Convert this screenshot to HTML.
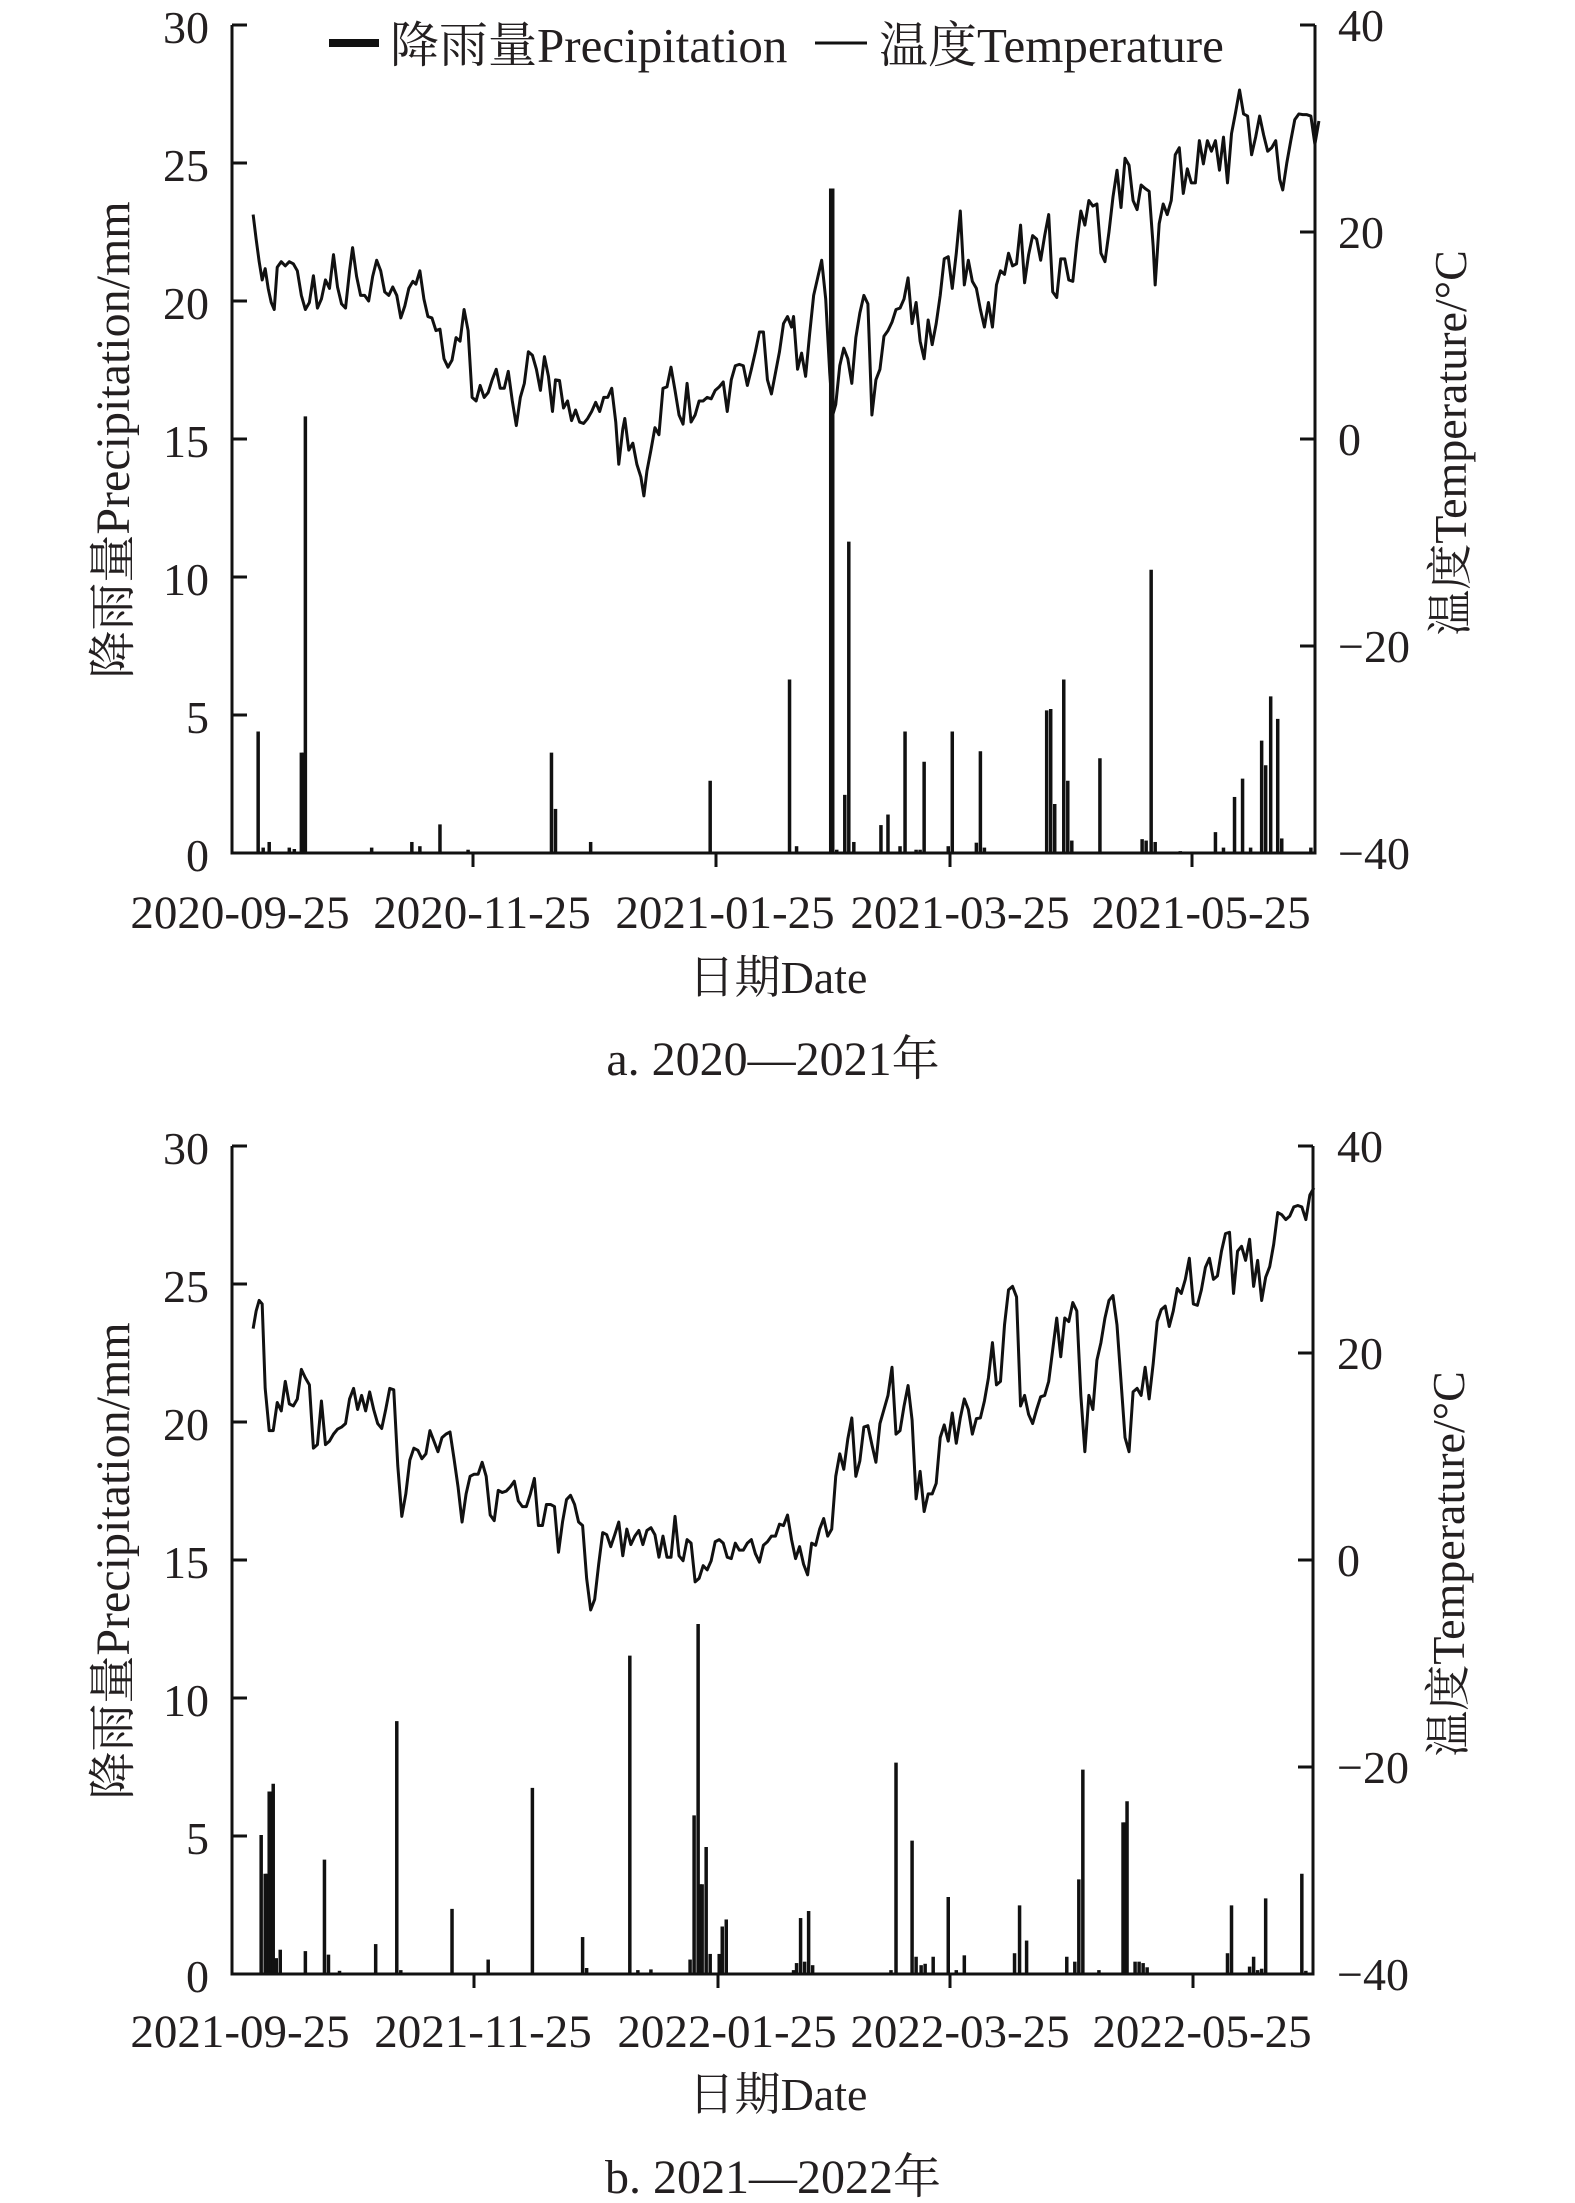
<!DOCTYPE html>
<html>
<head>
<meta charset="utf-8">
<style>
  html,body{margin:0;padding:0;background:#fff;}
  svg{display:block;}
  text{font-family:"Liberation Serif","Noto Serif CJK SC","Noto Sans CJK SC",serif;fill:#231f20;}
</style>
</head>
<body>
<svg width="1575" height="2203" viewBox="0 0 1575 2203" xmlns="http://www.w3.org/2000/svg">
<rect x="0" y="0" width="1575" height="2203" fill="#fff"/>

<!-- ===================== CHART A ===================== -->
<g id="chartA">
  <g transform="scale(1.0045,0.7034)" stroke="#111" fill="none">
    <polyline vector-effect="non-scaling-stroke" stroke-width="3" stroke-linejoin="round" points="252,305 255,340 258,372 261,398 264,382 267,410 270,430 273,440 276,380 280,372 284,378 288,372 292,375 296,385 300,420 304,440 308,430 312,392 316,438 320,425 324,398 328,410 332,362 336,408 340,432 344,438 348,385 351,352 355,393 359,420 363,420 367,428 371,393 375,370 379,385 383,415 387,420 391,408 395,420 399,452 403,435 407,410 411,400 414,404 418,385 422,425 426,450 430,452 434,470 438,468 442,510 446,522 450,512 454,480 458,485 462,440 466,470 470,565 474,570 478,548 482,565 486,558 490,540 494,525 498,552 502,552 506,528 510,570 514,605 518,565 522,545 526,500 530,505 534,525 538,555 542,507 546,535 550,585 553,540 557,541 561,580 565,570 569,598 573,583 577,600 581,602 585,595 589,585 593,572 597,585 601,565 605,565 609,552 613,600 616,660 620,610 622,595 626,640 630,630 634,660 638,678 641,705 644,670 648,640 652,608 656,618 660,552 664,550 668,522 672,555 676,590 680,603 684,545 688,600 692,590 696,570 700,570 704,565 708,567 712,555 716,550 720,543 724,585 728,540 732,520 736,518 740,520 744,548 748,525 752,500 756,472 760,472 764,540 768,560 772,530 776,500 780,460 784,450 788,465 790,450 794,525 798,502 802,535 806,475 810,420 814,395 818,370 822,425 826,530 829,590 832,575 836,520 840,495 844,510 848,545 852,480 856,445 860,420 864,432 868,590 872,540 876,525 880,478 884,470 888,458 892,440 896,438 900,425 904,395 908,460 912,430 916,485 920,510 924,455 928,490 932,460 936,420 940,368 944,365 948,410 952,360 956,300 960,405 964,370 968,400 972,410 976,440 980,465 984,430 988,465 992,405 996,385 1000,390 1004,360 1008,378 1012,375 1016,320 1020,402 1024,362 1028,335 1032,340 1036,370 1040,335 1044,305 1048,415 1052,423 1056,368 1060,368 1064,398 1068,400 1072,345 1076,300 1080,320 1084,285 1088,293 1092,290 1096,360 1100,372 1104,330 1108,280 1112,242 1116,295 1120,225 1124,235 1128,285 1132,298 1136,263 1140,268 1144,272 1148,350 1150,405 1154,318 1158,290 1162,305 1166,285 1170,220 1174,210 1178,275 1182,240 1186,260 1190,260 1194,200 1198,233 1202,200 1206,215 1210,200 1214,242 1218,195 1222,260 1226,190 1230,160 1234,128 1238,162 1242,165 1246,220 1250,195 1254,165 1258,192 1262,215 1266,210 1270,200 1274,255 1277,270 1281,232 1285,200 1289,170 1293,162 1297,163 1301,163 1305,165 1309,205 1313,172"/>
    <g stroke-width="3.5">
      <line vector-effect="non-scaling-stroke" x1="257" y1="1213" x2="257" y2="1040"/>
      <line vector-effect="non-scaling-stroke" x1="262" y1="1213" x2="262" y2="1205"/>
      <line vector-effect="non-scaling-stroke" x1="268" y1="1213" x2="268" y2="1197"/>
      <line vector-effect="non-scaling-stroke" x1="288" y1="1213" x2="288" y2="1205"/>
      <line vector-effect="non-scaling-stroke" x1="293" y1="1213" x2="293" y2="1207"/>
      <line vector-effect="non-scaling-stroke" x1="300" y1="1213" x2="300" y2="1070"/>
      <line vector-effect="non-scaling-stroke" x1="302" y1="1213" x2="302" y2="1070"/>
      <line vector-effect="non-scaling-stroke" x1="304" y1="1213" x2="304" y2="592"/>
      <line vector-effect="non-scaling-stroke" x1="370" y1="1213" x2="370" y2="1205"/>
      <line vector-effect="non-scaling-stroke" x1="410" y1="1213" x2="410" y2="1197"/>
      <line vector-effect="non-scaling-stroke" x1="418" y1="1213" x2="418" y2="1203"/>
      <line vector-effect="non-scaling-stroke" x1="438" y1="1213" x2="438" y2="1172"/>
      <line vector-effect="non-scaling-stroke" x1="466" y1="1213" x2="466" y2="1208"/>
      <line vector-effect="non-scaling-stroke" x1="549" y1="1213" x2="549" y2="1070"/>
      <line vector-effect="non-scaling-stroke" x1="553" y1="1213" x2="553" y2="1150"/>
      <line vector-effect="non-scaling-stroke" x1="588" y1="1213" x2="588" y2="1197"/>
      <line vector-effect="non-scaling-stroke" x1="707" y1="1213" x2="707" y2="1110"/>
      <line vector-effect="non-scaling-stroke" x1="786" y1="1213" x2="786" y2="966"/>
      <line vector-effect="non-scaling-stroke" x1="793" y1="1213" x2="793" y2="1203"/>
      <line vector-effect="non-scaling-stroke" x1="827" y1="1213" x2="827" y2="268"/>
      <line vector-effect="non-scaling-stroke" x1="829" y1="1213" x2="829" y2="268"/>
      <line vector-effect="non-scaling-stroke" x1="833" y1="1213" x2="833" y2="1208"/>
      <line vector-effect="non-scaling-stroke" x1="841" y1="1213" x2="841" y2="1130"/>
      <line vector-effect="non-scaling-stroke" x1="845" y1="1213" x2="845" y2="770"/>
      <line vector-effect="non-scaling-stroke" x1="850" y1="1213" x2="850" y2="1197"/>
      <line vector-effect="non-scaling-stroke" x1="877" y1="1213" x2="877" y2="1173"/>
      <line vector-effect="non-scaling-stroke" x1="884" y1="1213" x2="884" y2="1158"/>
      <line vector-effect="non-scaling-stroke" x1="896" y1="1213" x2="896" y2="1203"/>
      <line vector-effect="non-scaling-stroke" x1="901" y1="1213" x2="901" y2="1040"/>
      <line vector-effect="non-scaling-stroke" x1="912" y1="1213" x2="912" y2="1208"/>
      <line vector-effect="non-scaling-stroke" x1="916" y1="1213" x2="916" y2="1208"/>
      <line vector-effect="non-scaling-stroke" x1="920" y1="1213" x2="920" y2="1083"/>
      <line vector-effect="non-scaling-stroke" x1="944" y1="1213" x2="944" y2="1203"/>
      <line vector-effect="non-scaling-stroke" x1="948" y1="1213" x2="948" y2="1040"/>
      <line vector-effect="non-scaling-stroke" x1="972" y1="1213" x2="972" y2="1198"/>
      <line vector-effect="non-scaling-stroke" x1="976" y1="1213" x2="976" y2="1068"/>
      <line vector-effect="non-scaling-stroke" x1="980" y1="1213" x2="980" y2="1205"/>
      <line vector-effect="non-scaling-stroke" x1="1042" y1="1213" x2="1042" y2="1010"/>
      <line vector-effect="non-scaling-stroke" x1="1046" y1="1213" x2="1046" y2="1008"/>
      <line vector-effect="non-scaling-stroke" x1="1050" y1="1213" x2="1050" y2="1143"/>
      <line vector-effect="non-scaling-stroke" x1="1059" y1="1213" x2="1059" y2="966"/>
      <line vector-effect="non-scaling-stroke" x1="1063" y1="1213" x2="1063" y2="1110"/>
      <line vector-effect="non-scaling-stroke" x1="1067" y1="1213" x2="1067" y2="1195"/>
      <line vector-effect="non-scaling-stroke" x1="1095" y1="1213" x2="1095" y2="1078"/>
      <line vector-effect="non-scaling-stroke" x1="1137" y1="1213" x2="1137" y2="1193"/>
      <line vector-effect="non-scaling-stroke" x1="1141" y1="1213" x2="1141" y2="1195"/>
      <line vector-effect="non-scaling-stroke" x1="1146" y1="1213" x2="1146" y2="810"/>
      <line vector-effect="non-scaling-stroke" x1="1150" y1="1213" x2="1150" y2="1197"/>
      <line vector-effect="non-scaling-stroke" x1="1175" y1="1213" x2="1175" y2="1210"/>
      <line vector-effect="non-scaling-stroke" x1="1210" y1="1213" x2="1210" y2="1183"/>
      <line vector-effect="non-scaling-stroke" x1="1218" y1="1213" x2="1218" y2="1205"/>
      <line vector-effect="non-scaling-stroke" x1="1229" y1="1213" x2="1229" y2="1133"/>
      <line vector-effect="non-scaling-stroke" x1="1237" y1="1213" x2="1237" y2="1107"/>
      <line vector-effect="non-scaling-stroke" x1="1245" y1="1213" x2="1245" y2="1205"/>
      <line vector-effect="non-scaling-stroke" x1="1256" y1="1213" x2="1256" y2="1053"/>
      <line vector-effect="non-scaling-stroke" x1="1260" y1="1213" x2="1260" y2="1088"/>
      <line vector-effect="non-scaling-stroke" x1="1265" y1="1213" x2="1265" y2="990"/>
      <line vector-effect="non-scaling-stroke" x1="1272" y1="1213" x2="1272" y2="1022"/>
      <line vector-effect="non-scaling-stroke" x1="1276" y1="1213" x2="1276" y2="1192"/>
      <line vector-effect="non-scaling-stroke" x1="1305" y1="1213" x2="1305" y2="1205"/>
    </g>
  </g>

  <g stroke="#111" stroke-width="3" fill="none">
    <line x1="232" y1="25" x2="232" y2="854.5"/>
    <line x1="230.5" y1="853" x2="1316.5" y2="853"/>
    <line x1="1315" y1="25" x2="1315" y2="854.5"/>
    <line x1="232" y1="25" x2="247" y2="25"/>
    <line x1="232" y1="163" x2="247" y2="163"/>
    <line x1="232" y1="301" x2="247" y2="301"/>
    <line x1="232" y1="439" x2="247" y2="439"/>
    <line x1="232" y1="577" x2="247" y2="577"/>
    <line x1="232" y1="715" x2="247" y2="715"/>
    <line x1="1300" y1="25" x2="1315" y2="25"/>
    <line x1="1300" y1="232" x2="1315" y2="232"/>
    <line x1="1300" y1="439" x2="1315" y2="439"/>
    <line x1="1300" y1="646" x2="1315" y2="646"/>
    <line x1="473" y1="853" x2="473" y2="867"/>
    <line x1="716" y1="853" x2="716" y2="867"/>
    <line x1="950" y1="853" x2="950" y2="867"/>
    <line x1="1192" y1="853" x2="1192" y2="867"/>
  </g>

  <line x1="329" y1="43" x2="379" y2="43" stroke="#111" stroke-width="8"/>
  <text x="390" y="62" font-size="49">降雨量Precipitation</text>
  <line x1="815" y1="43" x2="867" y2="43" stroke="#111" stroke-width="3"/>
  <text x="879" y="62" font-size="49">温度Temperature</text>

  <g font-size="46" text-anchor="end">
    <text x="209" y="43">30</text>
    <text x="209" y="181">25</text>
    <text x="209" y="319">20</text>
    <text x="209" y="457">15</text>
    <text x="209" y="595">10</text>
    <text x="209" y="733">5</text>
    <text x="209" y="871">0</text>
  </g>
  <g font-size="46" text-anchor="start">
    <text x="1338" y="41">40</text>
    <text x="1338" y="248">20</text>
    <text x="1338" y="455">0</text>
    <text x="1338" y="662">−20</text>
    <text x="1338" y="869">−40</text>
  </g>
  <g font-size="47" text-anchor="middle">
    <text x="240" y="928">2020-09-25</text>
    <text x="482" y="928">2020-11-25</text>
    <text x="725" y="928">2021-01-25</text>
    <text x="960" y="928">2021-03-25</text>
    <text x="1201" y="928">2021-05-25</text>
  </g>
  <text x="778" y="993" font-size="46" text-anchor="middle">日期Date</text>
  <text x="773" y="1075" font-size="48" text-anchor="middle">a. 2020—2021年</text>
  <text transform="translate(129,440) rotate(-90)" font-size="48" text-anchor="middle">降雨量Precipitation/mm</text>
  <text transform="translate(1466,443) rotate(-90)" font-size="46" text-anchor="middle">温度Temperature/°C</text>
</g>

<!-- ===================== CHART B ===================== -->
<g id="chartBdata" transform="translate(0,1100) scale(1.0045,0.7034)" stroke="#111" fill="none">
  <polyline vector-effect="non-scaling-stroke" stroke-width="3" stroke-linejoin="round" points="252,325 255,300 258,285 261,290 264,410 268,470 272,470 276,430 280,442 284,400 288,432 292,435 296,425 300,383 304,395 308,405 312,495 316,490 320,428 324,490 328,485 332,475 336,468 340,465 344,460 348,425 352,410 356,440 360,420 364,442 368,415 372,440 376,460 380,467 384,440 388,410 392,412 396,520 400,592 404,560 408,512 412,495 416,498 420,510 424,503 428,470 432,485 436,500 440,480 444,475 448,472 452,510 456,550 460,600 464,560 468,535 472,532 476,532 480,515 484,535 488,590 492,598 496,555 500,558 504,556 508,550 512,542 516,570 520,578 524,578 528,560 532,538 536,605 540,605 544,575 548,575 552,578 556,643 560,600 564,568 568,562 572,575 576,600 580,605 584,680 588,725 592,710 596,660 600,615 604,618 608,635 612,618 616,600 620,648 624,610 628,632 632,620 636,612 640,632 644,612 648,608 652,618 656,650 660,620 664,650 668,650 672,592 676,648 680,655 684,625 688,630 692,685 696,680 700,662 704,668 708,655 712,628 716,625 720,630 724,650 728,652 732,630 736,640 740,640 744,630 748,625 752,645 756,657 760,633 764,628 768,620 772,620 776,603 780,605 784,590 788,625 792,652 796,635 800,660 804,675 808,630 812,633 816,610 820,595 824,620 828,610 832,535 836,503 840,525 844,482 848,452 852,535 856,513 860,465 864,463 868,490 872,515 876,460 880,440 884,420 888,380 892,475 896,470 900,435 904,406 908,455 912,567 916,528 920,585 924,560 928,560 932,545 936,480 940,462 944,485 948,445 952,488 956,452 960,425 964,440 968,475 972,453 976,452 980,428 984,395 988,345 992,405 996,400 1000,320 1004,270 1008,265 1012,280 1016,435 1020,420 1024,447 1028,460 1032,440 1036,422 1040,420 1044,400 1048,355 1052,310 1056,365 1060,310 1064,315 1068,288 1072,300 1076,420 1080,500 1084,420 1088,440 1092,370 1096,345 1100,310 1104,285 1108,278 1112,320 1116,400 1120,480 1124,500 1128,415 1132,410 1136,420 1140,380 1144,425 1148,375 1152,315 1156,298 1160,293 1164,322 1168,300 1172,268 1176,275 1180,255 1184,225 1188,290 1192,292 1196,270 1200,238 1204,225 1208,255 1212,250 1216,215 1220,190 1224,188 1228,275 1232,215 1236,208 1240,228 1244,198 1248,265 1252,228 1256,285 1260,252 1264,237 1268,205 1272,160 1276,163 1280,170 1284,165 1288,152 1292,150 1296,152 1300,170 1304,135 1308,125"/>
  <g stroke-width="3.5">
    <line vector-effect="non-scaling-stroke" x1="260" y1="1242" x2="260" y2="1045"/>
    <line vector-effect="non-scaling-stroke" x1="264" y1="1242" x2="264" y2="1100"/>
    <line vector-effect="non-scaling-stroke" x1="266" y1="1242" x2="266" y2="1100"/>
    <line vector-effect="non-scaling-stroke" x1="268" y1="1242" x2="268" y2="983"/>
    <line vector-effect="non-scaling-stroke" x1="270" y1="1242" x2="270" y2="983"/>
    <line vector-effect="non-scaling-stroke" x1="272" y1="1242" x2="272" y2="972"/>
    <line vector-effect="non-scaling-stroke" x1="275" y1="1242" x2="275" y2="1220"/>
    <line vector-effect="non-scaling-stroke" x1="279" y1="1242" x2="279" y2="1208"/>
    <line vector-effect="non-scaling-stroke" x1="304" y1="1242" x2="304" y2="1210"/>
    <line vector-effect="non-scaling-stroke" x1="323" y1="1242" x2="323" y2="1080"/>
    <line vector-effect="non-scaling-stroke" x1="327" y1="1242" x2="327" y2="1215"/>
    <line vector-effect="non-scaling-stroke" x1="338" y1="1242" x2="338" y2="1238"/>
    <line vector-effect="non-scaling-stroke" x1="374" y1="1242" x2="374" y2="1200"/>
    <line vector-effect="non-scaling-stroke" x1="395" y1="1242" x2="395" y2="883"/>
    <line vector-effect="non-scaling-stroke" x1="399" y1="1242" x2="399" y2="1237"/>
    <line vector-effect="non-scaling-stroke" x1="450" y1="1242" x2="450" y2="1150"/>
    <line vector-effect="non-scaling-stroke" x1="486" y1="1242" x2="486" y2="1222"/>
    <line vector-effect="non-scaling-stroke" x1="530" y1="1242" x2="530" y2="978"/>
    <line vector-effect="non-scaling-stroke" x1="580" y1="1242" x2="580" y2="1190"/>
    <line vector-effect="non-scaling-stroke" x1="584" y1="1242" x2="584" y2="1234"/>
    <line vector-effect="non-scaling-stroke" x1="627" y1="1242" x2="627" y2="790"/>
    <line vector-effect="non-scaling-stroke" x1="635" y1="1242" x2="635" y2="1237"/>
    <line vector-effect="non-scaling-stroke" x1="648" y1="1242" x2="648" y2="1236"/>
    <line vector-effect="non-scaling-stroke" x1="687" y1="1242" x2="687" y2="1222"/>
    <line vector-effect="non-scaling-stroke" x1="691" y1="1242" x2="691" y2="1017"/>
    <line vector-effect="non-scaling-stroke" x1="695" y1="1242" x2="695" y2="745"/>
    <line vector-effect="non-scaling-stroke" x1="697" y1="1242" x2="697" y2="1115"/>
    <line vector-effect="non-scaling-stroke" x1="699" y1="1242" x2="699" y2="1115"/>
    <line vector-effect="non-scaling-stroke" x1="703" y1="1242" x2="703" y2="1062"/>
    <line vector-effect="non-scaling-stroke" x1="707" y1="1242" x2="707" y2="1214"/>
    <line vector-effect="non-scaling-stroke" x1="716" y1="1242" x2="716" y2="1214"/>
    <line vector-effect="non-scaling-stroke" x1="719" y1="1242" x2="719" y2="1175"/>
    <line vector-effect="non-scaling-stroke" x1="723" y1="1242" x2="723" y2="1165"/>
    <line vector-effect="non-scaling-stroke" x1="790" y1="1242" x2="790" y2="1237"/>
    <line vector-effect="non-scaling-stroke" x1="793" y1="1242" x2="793" y2="1227"/>
    <line vector-effect="non-scaling-stroke" x1="797" y1="1242" x2="797" y2="1163"/>
    <line vector-effect="non-scaling-stroke" x1="801" y1="1242" x2="801" y2="1225"/>
    <line vector-effect="non-scaling-stroke" x1="805" y1="1242" x2="805" y2="1153"/>
    <line vector-effect="non-scaling-stroke" x1="809" y1="1242" x2="809" y2="1230"/>
    <line vector-effect="non-scaling-stroke" x1="887" y1="1242" x2="887" y2="1237"/>
    <line vector-effect="non-scaling-stroke" x1="892" y1="1242" x2="892" y2="942"/>
    <line vector-effect="non-scaling-stroke" x1="908" y1="1242" x2="908" y2="1053"/>
    <line vector-effect="non-scaling-stroke" x1="912" y1="1242" x2="912" y2="1218"/>
    <line vector-effect="non-scaling-stroke" x1="917" y1="1242" x2="917" y2="1230"/>
    <line vector-effect="non-scaling-stroke" x1="921" y1="1242" x2="921" y2="1228"/>
    <line vector-effect="non-scaling-stroke" x1="929" y1="1242" x2="929" y2="1218"/>
    <line vector-effect="non-scaling-stroke" x1="944" y1="1242" x2="944" y2="1133"/>
    <line vector-effect="non-scaling-stroke" x1="952" y1="1242" x2="952" y2="1237"/>
    <line vector-effect="non-scaling-stroke" x1="960" y1="1242" x2="960" y2="1216"/>
    <line vector-effect="non-scaling-stroke" x1="1010" y1="1242" x2="1010" y2="1213"/>
    <line vector-effect="non-scaling-stroke" x1="1015" y1="1242" x2="1015" y2="1145"/>
    <line vector-effect="non-scaling-stroke" x1="1022" y1="1242" x2="1022" y2="1195"/>
    <line vector-effect="non-scaling-stroke" x1="1062" y1="1242" x2="1062" y2="1218"/>
    <line vector-effect="non-scaling-stroke" x1="1070" y1="1242" x2="1070" y2="1225"/>
    <line vector-effect="non-scaling-stroke" x1="1074" y1="1242" x2="1074" y2="1108"/>
    <line vector-effect="non-scaling-stroke" x1="1078" y1="1242" x2="1078" y2="952"/>
    <line vector-effect="non-scaling-stroke" x1="1094" y1="1242" x2="1094" y2="1237"/>
    <line vector-effect="non-scaling-stroke" x1="1118" y1="1242" x2="1118" y2="1027"/>
    <line vector-effect="non-scaling-stroke" x1="1120" y1="1242" x2="1120" y2="1027"/>
    <line vector-effect="non-scaling-stroke" x1="1122" y1="1242" x2="1122" y2="997"/>
    <line vector-effect="non-scaling-stroke" x1="1130" y1="1242" x2="1130" y2="1225"/>
    <line vector-effect="non-scaling-stroke" x1="1134" y1="1242" x2="1134" y2="1225"/>
    <line vector-effect="non-scaling-stroke" x1="1138" y1="1242" x2="1138" y2="1227"/>
    <line vector-effect="non-scaling-stroke" x1="1142" y1="1242" x2="1142" y2="1233"/>
    <line vector-effect="non-scaling-stroke" x1="1222" y1="1242" x2="1222" y2="1213"/>
    <line vector-effect="non-scaling-stroke" x1="1226" y1="1242" x2="1226" y2="1145"/>
    <line vector-effect="non-scaling-stroke" x1="1244" y1="1242" x2="1244" y2="1232"/>
    <line vector-effect="non-scaling-stroke" x1="1248" y1="1242" x2="1248" y2="1218"/>
    <line vector-effect="non-scaling-stroke" x1="1252" y1="1242" x2="1252" y2="1237"/>
    <line vector-effect="non-scaling-stroke" x1="1256" y1="1242" x2="1256" y2="1235"/>
    <line vector-effect="non-scaling-stroke" x1="1260" y1="1242" x2="1260" y2="1135"/>
    <line vector-effect="non-scaling-stroke" x1="1296" y1="1242" x2="1296" y2="1100"/>
    <line vector-effect="non-scaling-stroke" x1="1300" y1="1242" x2="1300" y2="1238"/>
  </g>
</g>

<g id="chartB" transform="translate(0,1121)">
  <g stroke="#111" stroke-width="3" fill="none">
    <line x1="232" y1="25" x2="232" y2="854.5"/>
    <line x1="230.5" y1="853" x2="1314.5" y2="853"/>
    <line x1="1313" y1="25" x2="1313" y2="854.5"/>
    <line x1="232" y1="25" x2="247" y2="25"/>
    <line x1="232" y1="163" x2="247" y2="163"/>
    <line x1="232" y1="301" x2="247" y2="301"/>
    <line x1="232" y1="439" x2="247" y2="439"/>
    <line x1="232" y1="577" x2="247" y2="577"/>
    <line x1="232" y1="715" x2="247" y2="715"/>
    <line x1="1298" y1="25" x2="1313" y2="25"/>
    <line x1="1298" y1="232" x2="1313" y2="232"/>
    <line x1="1298" y1="439" x2="1313" y2="439"/>
    <line x1="1298" y1="646" x2="1313" y2="646"/>
    <line x1="474" y1="853" x2="474" y2="867"/>
    <line x1="718" y1="853" x2="718" y2="867"/>
    <line x1="950" y1="853" x2="950" y2="867"/>
    <line x1="1193" y1="853" x2="1193" y2="867"/>
  </g>
  <g font-size="46" text-anchor="end">
    <text x="209" y="43">30</text>
    <text x="209" y="181">25</text>
    <text x="209" y="319">20</text>
    <text x="209" y="457">15</text>
    <text x="209" y="595">10</text>
    <text x="209" y="733">5</text>
    <text x="209" y="871">0</text>
  </g>
  <g font-size="46" text-anchor="start">
    <text x="1337" y="41">40</text>
    <text x="1337" y="248">20</text>
    <text x="1337" y="455">0</text>
    <text x="1337" y="662">−20</text>
    <text x="1337" y="869">−40</text>
  </g>
  <g font-size="47" text-anchor="middle">
    <text x="240" y="926">2021-09-25</text>
    <text x="483" y="926">2021-11-25</text>
    <text x="727" y="926">2022-01-25</text>
    <text x="960" y="926">2022-03-25</text>
    <text x="1202" y="926">2022-05-25</text>
  </g>
  <text x="778" y="989" font-size="46" text-anchor="middle">日期Date</text>
  <text x="773" y="1072" font-size="48" text-anchor="middle">b. 2021—2022年</text>
  <text transform="translate(129,440) rotate(-90)" font-size="48" text-anchor="middle">降雨量Precipitation/mm</text>
  <text transform="translate(1464,443) rotate(-90)" font-size="46" text-anchor="middle">温度Temperature/°C</text>
</g>

</svg>
</body>
</html>
